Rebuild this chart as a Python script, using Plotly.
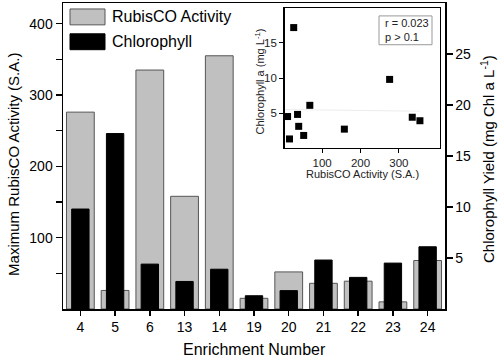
import numpy as np
import plotly.graph_objects as go

# ---- data ----
enrichment = ["4", "5", "6", "13", "14", "19", "20", "21", "22", "23", "24"]
rubisco = [276, 26, 335, 158, 355, 15, 52, 36, 39, 10, 68]
chlorophyll = [9.8, 17.2, 4.4, 2.7, 3.9, 1.3, 1.8, 4.8, 3.1, 4.5, 6.1]
left_ticks = [100, 200, 300, 400]
left_minor = [50, 150, 250, 350]
right_ticks = [5, 10, 15, 20, 25]
inset_x_ticks = [100, 200, 300]
inset_y_ticks = [5, 10, 15]
stats_text = "r = 0.023<br>p > 0.1"

# ---- layout helpers (pixel -> paper) ----
W, H = 500, 363
L, R, T, B = 63, 445, 1, 309


def px(x):
    return (x - L) / (R - L)


def py(y):
    return (B - y) / (B - T)


FONT = "Arial, Liberation Sans, sans-serif"
GRAY = "#c0c0c0"

fig = go.Figure()

fig.add_trace(go.Bar(
    x=enrichment, y=rubisco, width=0.8, name="RubisCO Activity",
    marker=dict(color=GRAY, line=dict(color="#555555", width=1)),
    xaxis="x", yaxis="y", showlegend=False))

fig.add_trace(go.Bar(
    x=enrichment, y=chlorophyll, width=0.5, name="Chlorophyll",
    marker=dict(color="black", line=dict(color="black", width=1)),
    xaxis="x", yaxis="y2", showlegend=False))

# inset regression line
slope, intercept = np.polyfit(rubisco, chlorophyll, 1)
xs = np.array([0, max(rubisco)])
fig.add_trace(go.Scatter(
    x=xs, y=slope * xs + intercept, mode="lines",
    line=dict(color="#ececec", width=1),
    xaxis="x2", yaxis="y3", showlegend=False, hoverinfo="skip"))

fig.add_trace(go.Scatter(
    x=rubisco, y=chlorophyll, mode="markers",
    marker=dict(symbol="square", size=7, color="black"),
    xaxis="x2", yaxis="y3", showlegend=False, cliponaxis=False))

axis_common = dict(showline=True, linecolor="black", linewidth=1.5,
                   ticks="outside", tickcolor="black", tickwidth=1.5,
                   showgrid=False, zeroline=False)
inset_common = dict(showline=True, linecolor="black", linewidth=1.3, mirror=True,
                    ticks="outside", tickcolor="black", tickwidth=1, ticklen=4,
                    showgrid=False, zeroline=False,
                    tickfont=dict(size=11.5, color="#222222", family=FONT))

fig.update_layout(
    width=W, height=H,
    margin=dict(l=L, r=W - R, t=T, b=H - B, pad=0),
    paper_bgcolor="white", plot_bgcolor="white",
    barmode="overlay",
    font=dict(family=FONT, color="black"),
    xaxis=dict(type="category", range=[-0.5, 10.5], domain=[0, 1], anchor="y",
               mirror=True, ticklen=5, tickfont=dict(size=14), **axis_common),
    yaxis=dict(range=[0, 429], tickvals=left_ticks, ticklen=6,
               tickfont=dict(size=14),
               minor=dict(tickvals=left_minor, ticks="outside", ticklen=6,
                          tickcolor="black", tickwidth=1.5, showgrid=False),
               **axis_common),
    yaxis2=dict(range=[0, 30], overlaying="y", side="right", anchor="x",
                tickvals=right_ticks, ticklen=6, tickfont=dict(size=14),
                **axis_common),
    xaxis2=dict(domain=[px(284.5), px(439.5)], anchor="y3", range=[2, 406],
                tickvals=inset_x_ticks, **inset_common),
    yaxis3=dict(domain=[py(147), py(6)], anchor="x2", range=[0, 20],
                tickvals=inset_y_ticks, **inset_common),
)

annotations = []
shapes = []

# axis titles
annotations.append(dict(text="Maximum RubisCO Activity (S.A.)", x=px(14), y=py(164),
                        xref="paper", yref="paper", textangle=-90, showarrow=False,
                        xanchor="center", yanchor="middle", font=dict(size=15)))
annotations.append(dict(text="Chlorophyll Yield (mg Chl a L<sup>-1</sup>)", x=px(488),
                        y=py(158), xref="paper", yref="paper", textangle=-90,
                        showarrow=False, xanchor="center", yanchor="middle",
                        font=dict(size=15)))
annotations.append(dict(text="Enrichment Number", x=px(254), y=py(350),
                        xref="paper", yref="paper", showarrow=False,
                        xanchor="center", yanchor="middle", font=dict(size=16)))

# inset titles
annotations.append(dict(text="RubisCO Activity (S.A.)", x=px(362), y=py(173.5),
                        xref="paper", yref="paper", showarrow=False,
                        xanchor="center", yanchor="middle",
                        font=dict(size=11, color="#222222")))
annotations.append(dict(text="Chlorophyll a (mg L<sup>-1</sup>)", x=px(260), y=py(80),
                        xref="paper", yref="paper", textangle=-90, showarrow=False,
                        xanchor="center", yanchor="middle",
                        font=dict(size=11, color="#222222")))

# stats box
shapes.append(dict(type="rect", xref="paper", yref="paper",
                   x0=px(379), x1=px(432), y0=py(43), y1=py(14),
                   line=dict(color="#999999", width=1), fillcolor="white"))
annotations.append(dict(text=stats_text, x=px(383), y=py(28.5), xref="paper",
                        yref="paper", showarrow=False, xanchor="left",
                        yanchor="middle", align="left",
                        font=dict(size=11, color="#222222")))

# legend
legend_items = [("RubisCO Activity", GRAY, "#555555", 7, 23),
                ("Chlorophyll", "black", "black", 32, 48)]
for label, fill, edge, ytop, ybot in legend_items:
    shapes.append(dict(type="rect", xref="paper", yref="paper",
                       x0=px(70), x1=px(105), y0=py(ybot), y1=py(ytop),
                       line=dict(color=edge, width=1), fillcolor=fill))
    annotations.append(dict(text=label, x=px(110), y=py((ytop + ybot) / 2),
                            xref="paper", yref="paper", showarrow=False,
                            xanchor="left", yanchor="middle", font=dict(size=16)))

fig.update_layout(annotations=annotations, shapes=shapes)

fig.write_html("out.html",
               config={"displayModeBar": False, "staticPlot": True},
               post_script="document.body.style.margin='0';"
                           "document.body.style.overflow='hidden';")
